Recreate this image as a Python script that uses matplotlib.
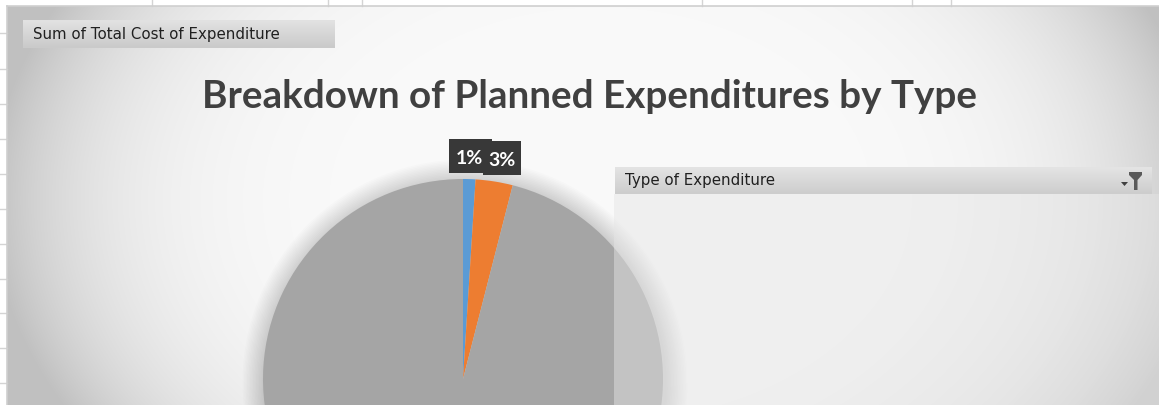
import numpy as np
import matplotlib
matplotlib.use("Agg")
import matplotlib.pyplot as plt
from matplotlib.patches import Rectangle, Circle, Polygon

# ---- data ----
categories = ["Type A", "Type B", "Other"]
shares = [1, 3, 96]
slice_colors = ["#5b9bd5", "#ed7d31", "#a5a5a5"]
label_texts = ["1%", "3%"]
title = "Breakdown of Planned Expenditures by Type"
value_field = "Sum of Total Cost of Expenditure"
legend_field = "Type of Expenditure"

W, H = 1159, 405
fig = plt.figure(figsize=(W / 100, H / 100), dpi=100)
fig.patch.set_facecolor("white")

# ---- background (sheet + chart area gradient) ----
bg = fig.add_axes([0, 0, 1, 1], zorder=0)
bg.set_xlim(0, W); bg.set_ylim(H, 0); bg.axis("off")
yy, xx = np.mgrid[6:H:1.0, 7:W:1.0]
dist = np.sqrt(((xx - 600) / 590.0) ** 2 + ((yy - 200) / 420.0) ** 2)
val = 250 - 49 * dist ** 5
val = np.clip(val, 192, 250) / 255.0
img = np.dstack([val, val, val])
bg.imshow(img, extent=(7, W, H, 6), aspect="auto", interpolation="bilinear", zorder=0)
for x in [152, 328, 362, 702, 912, 951]:
    bg.plot([x, x], [0, 6], color="#d4d4d4", lw=1, zorder=1)
for y in [33, 69, 104, 139, 174, 209, 244, 279, 313, 348, 383]:
    bg.plot([0, 7], [y, y], color="#d4d4d4", lw=1, zorder=1)
bg.plot([7, W], [6, 6], color="#cfcfcf", lw=1.2, zorder=1)
bg.plot([7, 7], [6, H], color="#cfcfcf", lw=1.2, zorder=1)

# soft shadow around pie
cx, cy, R = 463, 379, 200
for k in range(1, 16):
    bg.add_patch(Circle((cx + 2, cy + 3), R + k * 1.5, facecolor="black",
                        alpha=0.012, lw=0, zorder=2))

# ---- pie ----
pax = fig.add_axes([(cx - R) / W, (H - (cy + R)) / H, 2 * R / W, 2 * R / H], zorder=1)
pax.pie(shares, colors=slice_colors, startangle=90, counterclock=False,
        radius=1, wedgeprops=dict(linewidth=0))
pax.set_xlim(-1, 1); pax.set_ylim(-1, 1)
pax.set_aspect("auto")
pax.axis("off")

# ---- overlay elements ----
ov = fig.add_axes([0, 0, 1, 1], zorder=2)
ov.set_xlim(0, W); ov.set_ylim(H, 0); ov.axis("off")
ov.patch.set_alpha(0)

# translucent legend panel
ov.add_patch(Rectangle((614, 194), W - 614, H - 194, facecolor="#e5e5e5",
                       alpha=0.47, lw=0, zorder=1))

def grad_box(x0, y0, w, h, top, bottom):
    t = np.linspace(top, bottom, 32)[:, None] / 255.0
    g = np.repeat(t, 2, axis=1)
    ov.imshow(np.dstack([g, g, g]), extent=(x0, x0 + w, y0 + h, y0),
              aspect="auto", interpolation="bilinear", zorder=3)

# field buttons
grad_box(23, 20, 312, 28, 226, 202)
ov.text(33, 35, value_field, fontsize=10.8, family="DejaVu Sans",
        color="#202020", va="center", ha="left", zorder=4)
grad_box(615, 167, 537, 27, 228, 205)
ov.text(625, 181, legend_field, fontsize=10.8, family="DejaVu Sans",
        color="#202020", va="center", ha="left", zorder=4)

# funnel icon
ov.add_patch(Polygon([(1129, 172), (1142, 172), (1142, 175), (1137.5, 180),
                      (1137.5, 190), (1134, 190), (1134, 180), (1129, 175)],
                     closed=True, facecolor="#5a5a5a", lw=0, zorder=4))
ov.add_patch(Polygon([(1121, 182), (1128, 182), (1124.5, 186)], closed=True,
                     facecolor="#404040", lw=0, zorder=4))

# title
ov.text(590, 108, title, fontsize=27.8, family="Lato", fontweight="bold",
        color="#404040", ha="center", va="baseline", zorder=4)

# data labels
ov.add_patch(Rectangle((449, 139), 43, 34, facecolor="#383838", lw=0, zorder=5))
ov.text(456, 158, label_texts[0], fontsize=14, family="Lato", fontweight="bold",
        color="white", ha="left", va="center", zorder=6)
ov.add_patch(Rectangle((483, 141), 38, 34, facecolor="#383838", lw=0, zorder=7))
ov.text(502, 160, label_texts[1], fontsize=14, family="Lato", fontweight="bold",
        color="white", ha="center", va="center", zorder=8)

fig.savefig("out.png", dpi=100)
